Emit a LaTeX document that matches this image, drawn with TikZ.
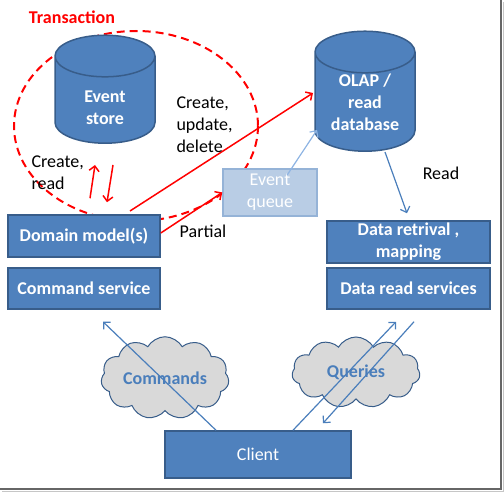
\documentclass[tikz,border=0pt]{standalone}
\usepackage{fontspec}
\setmainfont{Carlito}
\usepackage{tikz}
\usetikzlibrary{shapes.geometric,shapes.symbols,arrows.meta,calc}
\definecolor{boxblue}{HTML}{4F81BD}
\definecolor{boxline}{HTML}{385D8A}
\definecolor{arrowblue}{HTML}{4A7EBB}
\definecolor{queuefill}{HTML}{B9CDE5}
\definecolor{queueline}{HTML}{95B3D7}
\definecolor{queuearrow}{HTML}{8EB4E3}
\definecolor{cloudfill}{HTML}{D9D9D9}
\newcommand{\diagfont}{\fontsize{18}{22}\selectfont}

\begin{document}
\begin{tikzpicture}[x=1pt,y=-1pt,
    every node/.style={font=\diagfont},
    >={Straight Barb[length=5pt,width=10pt]},
    box/.style={draw=boxline, fill=boxblue, line width=1.5pt, text=white,
        font=\diagfont\bfseries, align=center, inner sep=0pt},
    store/.style={cylinder, shape border rotate=90, aspect=0.65, draw=boxline,
        fill=boxblue, line width=1.5pt, minimum width=100pt, inner sep=0pt},
    storetext/.style={text=white, font=\diagfont\bfseries, align=center},
    wolk/.style={cloud, cloud puffs=11, cloud puff arc=120, aspect=1.8,
        draw=boxline, fill=cloudfill, line width=1pt, text=arrowblue,
        font=\diagfont\bfseries, inner sep=0pt},
    redarrow/.style={->, red, line width=1.5pt},
    bluearrow/.style={->, arrowblue, line width=1.2pt}]
    \useasboundingbox (0,0) rectangle (504,492);

    % frame shadow
    \draw[gray!45, line width=1pt] (503,2) -- (503,491) -- (2,491);
    \draw[gray!80!black, line width=1.5pt] (501,0) -- (501,489) -- (0,489);

    % transaction
    \node[red, font=\diagfont\bfseries] (trans) at (72,17) {Transaction};
    \draw[red, line width=2pt, dash pattern=on 8pt off 5pt]
        (136,126) ellipse [x radius=122, y radius=95];

    % databases
    \node[store, minimum height=108pt] (estore) at (105,100) {\rule{64pt}{0pt}};
    \node[storetext] (estoretext) at ($(estore.center)+(0,7.5)$) {Event\\store};
    \node[store, minimum height=120pt] (olap) at (365,102) {\rule{64pt}{0pt}};
    \node[storetext] (olaptext) at (olap.center) {OLAP /\\read\\database};

    % event queue
    \node[box, draw=queueline, fill=queuefill, font=\diagfont,
        minimum width=94pt, minimum height=47pt] (queue) at (270,192.5) {Event\\queue};

    % write side
    \node[box, minimum width=152pt, minimum height=42pt] (domain) at (84,236) {Domain model(s)};
    \node[box, minimum width=152pt, minimum height=41pt] (cmdsvc) at (84,288.5) {Command service};

    % read side
    \node[box, minimum width=163pt, minimum height=42pt] (retrieval) at (408.5,242) {Data retrival ,\\mapping};
    \node[box, minimum width=163pt, minimum height=41pt] (readsvc) at (408.5,288.5) {Data read services};

    % client
    \node[box, font=\diagfont, minimum width=186pt, minimum height=47pt] (client) at (258,454.5) {Client};

    % clouds
    \node[wolk, minimum width=128pt, minimum height=70pt] (commands) at (165,378) {Commands};
    \node[wolk, minimum width=128pt, minimum height=71pt] (queries) at (356,372.5) {Queries};

    % red connectors
    \draw[redarrow] ($(domain.north)+(6,-16)$) -- ($(estore.center)+(-10,65)$);
    \draw[redarrow] ($(estore.center)+(8,65)$) -- ($(domain.north)+(23,-12)$);
    \draw[redarrow] ($(domain.center)+(46,-25)$) -- ($(olap.center)+(-52,-9)$);
    \draw[redarrow] ($(domain.east)+(0,-3)$) -- (queue.west);

    % blue connectors
    \draw[->, queuearrow, line width=1.2pt] ($(queue.north)+(17,7)$) -- ($(olap.center)+(-48,28)$);
    \draw[bluearrow] ($(olap.center)+(20,50)$) -- ($(retrieval.north)+(-1.5,-7)$);
    \draw[bluearrow] ($(client.north)+(-42,0)$) -- ($(cmdsvc.south)+(19,12)$);
    \draw[bluearrow] ($(client.north)+(35,0)$) -- ($(readsvc.south)+(-12.5,12)$);
    \draw[bluearrow] ($(readsvc.south)+(5.5,12)$) -- ($(client.north)+(65,-7)$);

    % labels
    \node[align=left, anchor=west] (lblread) at (28,173) {Create,\\read};
    \node[align=left, anchor=west] (lblcud) at (173,125) {Create,\\update,\\delete};
    \node (lblpartial) at (203,231) {Partial};
    \node (lblquery) at (441,173) {Read};
\end{tikzpicture}
\end{document}
